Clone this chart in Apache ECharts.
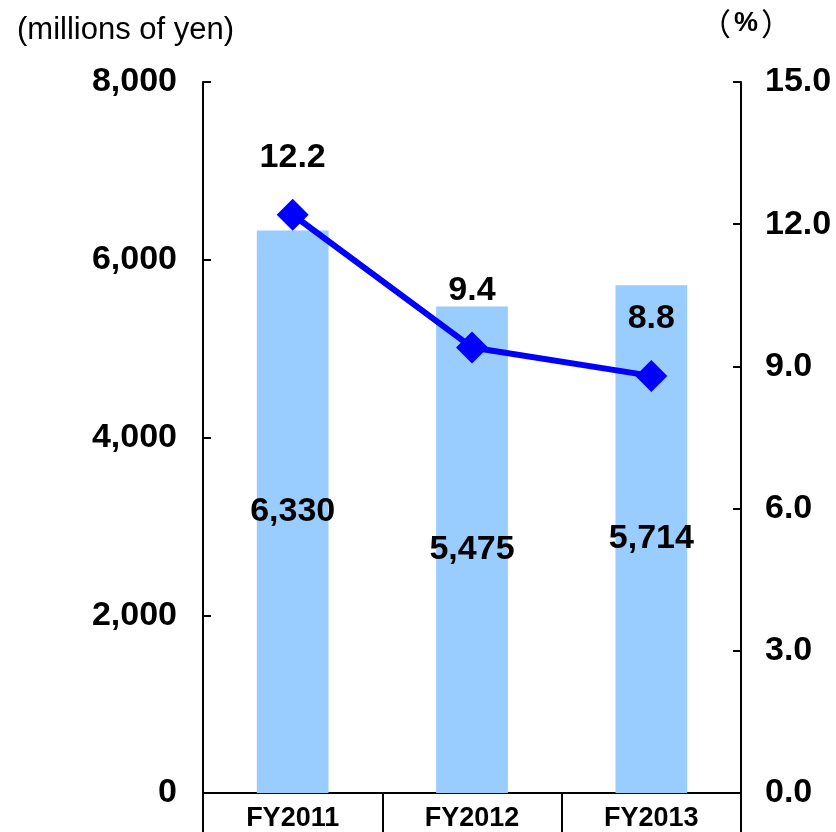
<!DOCTYPE html>
<html>
<head>
<meta charset="utf-8">
<script src="https://cdn.jsdelivr.net/npm/echarts@6/dist/echarts.min.js"></script>
<style>
html,body{margin:0;padding:0;background:#fff;}
#c{width:836px;height:832px;}
</style>
</head>
<body>
<div id="c"></div>
<script>
const categories = ['FY2011', 'FY2012', 'FY2013'];
const salesValues = [6330, 5475, 5714];
const ratioValues = [12.2, 9.4, 8.8];
const leftTicks = { min: 0, max: 8000, interval: 2000 };
const rightTicks = { min: 0, max: 15, interval: 3 };
const leftUnit = '(millions of yen)';
const rightUnitOpen = '（';
const rightUnitSym = '%';
const rightUnitClose = '）';

const FONT = "'Liberation Sans', Arial, 'Noto Sans CJK JP', sans-serif";
const chart = echarts.init(document.getElementById('c'), null, { renderer: 'canvas' });

chart.setOption({
  backgroundColor: '#ffffff',
  animation: false,
  textStyle: { fontFamily: FONT },
  grid: { left: 203, right: 95, top: 82, bottom: 36, containLabel: false },
  graphic: [
    { type: 'text', left: 17, top: 15, style: { text: leftUnit, fontFamily: FONT, fontSize: 31, fill: '#000' } },
    {
      type: 'text', left: 700, top: 8,
      style: {
        text: '{p|' + rightUnitOpen + '}{s|' + rightUnitSym + '}{p|' + rightUnitClose + '}',
        rich: {
          p: { fontFamily: "'Noto Sans CJK JP', sans-serif", fontSize: 31, fill: '#000', verticalAlign: 'middle' },
          s: { fontFamily: FONT, fontSize: 27, fontWeight: 'bold', fill: '#000', verticalAlign: 'middle', padding: [0, 3, 0, 3] }
        }
      }
    }
  ],
  xAxis: {
    type: 'category',
    data: categories,
    boundaryGap: true,
    axisLine: { show: true, lineStyle: { color: '#000', width: 2 } },
    axisTick: { show: true, inside: false, length: 40, lineStyle: { color: '#000', width: 2 } },
    axisLabel: { color: '#000', fontFamily: FONT, fontSize: 27, fontWeight: 'bold', margin: 12 },
    splitLine: { show: false }
  },
  yAxis: [
    {
      type: 'value', position: 'left',
      min: leftTicks.min, max: leftTicks.max, interval: leftTicks.interval,
      axisLine: { show: true, lineStyle: { color: '#000', width: 2 } },
      axisTick: { show: true, inside: true, length: 8, lineStyle: { color: '#000', width: 2 } },
      axisLabel: {
        color: '#000', fontFamily: FONT, fontSize: 34, fontWeight: 'bold', margin: 26,
        formatter: v => v.toLocaleString('en-US')
      },
      splitLine: { show: false }
    },
    {
      type: 'value', position: 'right',
      min: rightTicks.min, max: rightTicks.max, interval: rightTicks.interval,
      axisLine: { show: true, lineStyle: { color: '#000', width: 2 } },
      axisTick: { show: true, inside: true, length: 8, lineStyle: { color: '#000', width: 2 } },
      axisLabel: {
        color: '#000', fontFamily: FONT, fontSize: 34, fontWeight: 'bold', margin: 24,
        formatter: v => v.toFixed(1)
      },
      splitLine: { show: false }
    }
  ],
  series: [
    {
      type: 'bar',
      data: salesValues,
      yAxisIndex: 0,
      barWidth: '40%',
      itemStyle: { color: '#99CCFF' },
      label: {
        show: true, position: 'inside', color: '#000',
        fontFamily: FONT, fontSize: 34, fontWeight: 'bold',
        formatter: p => p.value.toLocaleString('en-US')
      },
      z: 2
    },
    {
      type: 'line',
      data: ratioValues,
      yAxisIndex: 1,
      symbol: 'diamond',
      symbolSize: 32,
      lineStyle: { color: '#0000FF', width: 6 },
      itemStyle: { color: '#0000FF' },
      label: {
        show: true, position: 'top', distance: 24, color: '#000',
        fontFamily: FONT, fontSize: 34, fontWeight: 'bold',
        formatter: p => p.value.toFixed(1)
      },
      z: 3
    }
  ]
});
</script>
</body>
</html>
